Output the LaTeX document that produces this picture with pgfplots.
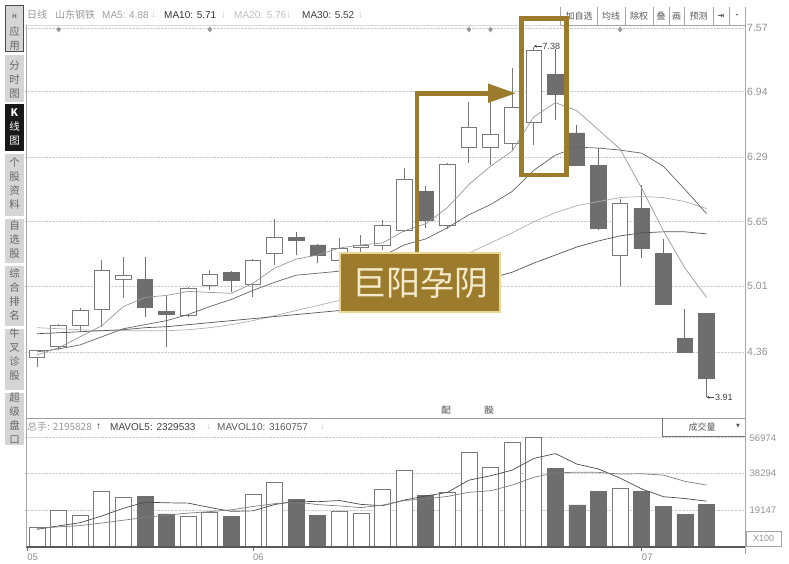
\documentclass[border=0pt]{standalone}
\usepackage{pgfplots}
\pgfplotsset{compat=1.18}
\usepackage{pgfplotstable}
\usepackage{fontspec}
\setmainfont{Liberation Sans}
\newfontfamily\cjk{Noto Sans CJK SC}
\newfontfamily\dejavu{DejaVu Sans}
\usetikzlibrary{arrows.meta}

\definecolor{edge}{HTML}{7A7A7A}
\definecolor{dark}{HTML}{6E6E6E}
\definecolor{txtgray}{HTML}{666666}
\definecolor{ma5c}{HTML}{999999}
\definecolor{ma10c}{HTML}{666666}
\definecolor{ma20c}{HTML}{B0B0B0}
\definecolor{ma30c}{HTML}{555555}
\definecolor{gold}{HTML}{9C7C2C}
\definecolor{goldlt}{HTML}{F4EACB}
\definecolor{goldbd}{HTML}{E9D793}
\definecolor{btn}{HTML}{D5D5D5}

% up (hollow) candles: index, open, high, low, close
\pgfplotstableread{
i o h l c
0 4.31 4.38 4.21 4.37
1 4.41 4.64 4.38 4.62
2 4.62 4.80 4.56 4.77
3 4.78 5.27 4.61 5.17
4 5.08 5.30 4.89 5.12
7 4.72 5.00 4.71 4.99
8 5.02 5.17 4.97 5.13
10 5.03 5.28 4.90 5.27
11 5.34 5.68 5.22 5.49
14 5.27 5.49 5.22 5.39
15 5.40 5.52 5.33 5.42
16 5.42 5.67 5.37 5.61
17 5.56 6.18 5.55 6.07
19 5.61 6.23 5.58 6.22
20 6.39 6.84 6.23 6.58
21 6.39 6.84 6.21 6.52
22 6.43 7.17 6.36 6.78
23 6.63 7.38 6.41 7.35
27 5.32 5.88 5.01 5.83
}\upc

% down (filled) candles
\pgfplotstableread{
i o h l c
5 5.08 5.30 4.71 4.80
6 4.76 4.91 4.41 4.73
9 5.15 5.16 4.95 5.07
12 5.49 5.55 5.32 5.46
13 5.42 5.43 5.24 5.32
18 5.95 6.00 5.59 5.66
24 7.11 7.36 6.66 6.91
25 6.53 6.61 6.21 6.21
26 6.21 6.38 5.57 5.58
28 5.78 6.01 5.29 5.39
29 5.34 5.48 4.83 4.83
30 4.49 4.79 4.35 4.35
31 4.74 4.74 3.91 4.10
}\dnc

% moving averages of price
\pgfplotstableread{
i ma5 ma10 ma20 ma30
0 4.33 4.36 4.60 4.54
1 4.40 4.39 4.59 4.55
2 4.51 4.43 4.58 4.56
3 4.62 4.51 4.57 4.57
4 4.81 4.59 4.57 4.58
5 4.90 4.63 4.57 4.60
6 4.92 4.67 4.57 4.61
7 4.96 4.73 4.58 4.63
8 4.95 4.81 4.60 4.65
9 4.94 4.88 4.63 4.67
10 5.04 4.97 4.67 4.69
11 5.19 5.05 4.72 4.71
12 5.28 5.12 4.77 4.73
13 5.32 5.14 4.82 4.75
14 5.39 5.16 4.87 4.77
15 5.42 5.23 4.93 4.79
16 5.44 5.31 4.99 4.81
17 5.56 5.42 5.07 4.85
18 5.63 5.48 5.14 4.90
19 5.79 5.59 5.23 4.96
20 6.02 5.72 5.34 5.03
21 6.20 5.82 5.44 5.09
22 6.35 5.95 5.54 5.15
23 6.69 6.16 5.65 5.24
24 6.83 6.31 5.74 5.32
25 6.75 6.39 5.81 5.40
26 6.56 6.38 5.85 5.46
27 6.37 6.36 5.89 5.51
28 5.98 6.33 5.90 5.54
29 5.56 6.20 5.89 5.55
30 5.19 5.97 5.85 5.55
31 4.90 5.73 5.78 5.53
}\ma

% volume (x100): up days, down days, MAVOL5, MAVOL10
\pgfplotstableread{
i up dn mv5 mv10
0 10070 nan 9000 9500
1 18780 nan 10800 10300
2 16520 nan 12500 11000
3 29120 nan 16000 12300
4 25800 nan 20058 13800
5 nan 26130 23270 15200
6 nan 17050 22924 16500
7 15630 nan 22746 17500
8 17730 nan 20468 18300
9 nan 15630 18434 19246
10 27540 nan 18716 20993
11 33470 nan 22000 22462
12 nan 24760 23826 23286
13 nan 16160 23512 21990
14 18620 nan 24110 21272
15 17420 nan 22086 20401
16 30000 nan 21392 21696
17 39700 nan 24380 24103
18 nan 26650 26478 24995
19 28220 nan 28398 26254
20 49410 nan 34796 28441
21 41540 nan 37104 29248
22 54450 nan 40054 32217
23 57280 nan 46180 36329
24 nan 41020 48740 38569
25 nan 21770 43212 39004
26 nan 28750 40654 38879
27 30530 nan 35870 37962
28 nan 28750 30164 38172
29 nan 20880 26136 37438
30 nan 16890 25160 34186
31 nan 21958 23802 32228
}\vol

\pgfplotsset{
  pgeom/.style={anchor=south west, at={(25pt,146pt)}, width=720pt, height=393pt,
    scale only axis, xmin=-0.556, xmax=32.78, ymin=3.705, ymax=7.60},
  vgeom/.style={anchor=south west, at={(25pt,17.5pt)}, width=720pt, height=128.5pt,
    scale only axis, xmin=-0.556, xmax=32.78, ymin=0, ymax=67411},
}

\begin{document}
\begin{tikzpicture}[x=1pt,y=1pt]
\path[use as bounding box] (0,0) rectangle (789,564);
\fill[white] (0,0) rectangle (789,564);

% ---------- price panel: grid, labels, wicks, markers
\begin{axis}[pgeom, axis line style={draw=none}, xtick=\empty,
  ytick={4.36,5.01,5.65,6.29,6.94,7.57},
  yticklabels={4.36,5.01,5.65,6.29,6.94,7.57},
  yticklabel pos=right, ytick style={draw=none},
  ymajorgrids, grid style={gray!40, densely dotted, line width=0.8pt},
  yticklabel style={font=\fontsize{10.5}{10.5}\selectfont, text=gray!85, inner sep=2pt},
  /pgf/number format/assume math mode=true]
\addplot[draw=none, mark=none, error bars/.cd, y dir=plus, y explicit, error mark=none,
  error bar style={draw=edge, line width=1pt}]
  table[x=i, y=l, y error expr=\thisrow{h}-\thisrow{l}] \upc;
\addplot[draw=none, mark=none, error bars/.cd, y dir=plus, y explicit, error mark=none,
  error bar style={draw=dark, line width=1pt}]
  table[x=i, y=l, y error expr=\thisrow{h}-\thisrow{l}] \dnc;
\addplot[only marks, mark=diamond*, mark size=2.6pt, color=gray!80]
  coordinates {(1,7.555) (8,7.555) (20,7.555) (21,7.555) (27,7.555)};
\end{axis}

% ---------- up candle bodies (hollow)
\begin{axis}[pgeom, hide axis, ybar stacked, bar width=0.72]
\addplot[draw=none, fill=none] table[x=i, y=o] \upc;
\addplot[fill=white, draw=edge, line width=0.9pt] table[x=i, y expr=\thisrow{c}-\thisrow{o}] \upc;
\end{axis}

% ---------- down candle bodies (filled)
\begin{axis}[pgeom, hide axis, ybar stacked, bar width=0.72]
\addplot[draw=none, fill=none] table[x=i, y=c] \dnc;
\addplot[fill=dark, draw=dark, line width=0.9pt] table[x=i, y expr=\thisrow{o}-\thisrow{c}] \dnc;
\end{axis}

% ---------- moving averages and extreme labels
\begin{axis}[pgeom, hide axis]
\addplot[ma20c, line width=0.7pt] table[x=i, y=ma20] \ma;
\addplot[ma30c, line width=0.7pt] table[x=i, y=ma30] \ma;
\addplot[ma10c, line width=0.7pt] table[x=i, y=ma10] \ma;
\addplot[ma5c, line width=0.7pt] table[x=i, y=ma5] \ma;
\draw[black!70, line width=0.6pt, -{Stealth[length=3pt,width=3pt]}] (axis cs:23.38,7.39) -- (axis cs:23.0,7.39);
\node[anchor=west, inner sep=0.5pt, font=\fontsize{9}{9}\selectfont, text=black!75] at (axis cs:23.38,7.39) {7.38};
\draw[black!70, line width=0.6pt, -{Stealth[length=3pt,width=3pt]}] (axis cs:31.36,3.91) -- (axis cs:31.0,3.91);
\node[anchor=west, inner sep=0.5pt, font=\fontsize{9}{9}\selectfont, text=black!75] at (axis cs:31.36,3.91) {3.91};
\end{axis}

% ---------- volume panel
\begin{axis}[vgeom, axis line style={draw=none},
  ytick={19147,38294,56974}, yticklabels={19147,38294,56974},
  yticklabel pos=right, ytick style={draw=none}, scaled y ticks=false,
  ymajorgrids, grid style={gray!40, densely dotted, line width=0.8pt},
  yticklabel style={font=\fontsize{9.5}{9.5}\selectfont, text=gray!85, inner sep=2pt},
  xtick={-0.46,10,28}, xticklabels={05,06,07}, xtick pos=left,
  xtick style={draw=black!60, line width=0.8pt}, major tick length=5pt, tick align=center,
  xticklabel style={anchor=north west, inner sep=1pt, xshift=-1pt, yshift=-1pt,
    font=\fontsize{9.5}{9.5}\selectfont, text=gray!90},
  ybar, bar width=0.74]
\addplot[bar shift=0pt, fill=white, draw=edge, line width=0.9pt] table[x=i, y=up] \vol;
\addplot[bar shift=0pt, fill=dark, draw=dark, line width=0.9pt] table[x=i, y=dn] \vol;
\end{axis}
\begin{axis}[vgeom, hide axis]
\addplot[black!70, line width=0.7pt] table[x=i, y=mv5] \vol;
\addplot[black!50, line width=0.7pt] table[x=i, y=mv10] \vol;
\end{axis}

% ---------- frame lines
\draw[gray!30, line width=0.6pt] (26,539) -- (745,539);
\draw[gray!75, line width=0.8pt] (26,146) -- (745,146);
\draw[black!65, line width=1.1pt] (26,17) -- (745,17);
\draw[gray!70, line width=0.9pt] (26,17) -- (26,539);
\draw[gray!70, line width=1.1pt] (745.5,10) -- (745.5,557);

% ---------- header texts
\begin{scope}[every node/.style={anchor=west, inner sep=0pt, font=\fontsize{10}{10}\selectfont}]
\node[text=gray!80] at (27,549) {\cjk 日线};
\node[text=gray!80] at (55,549) {\cjk 山东钢铁};
\node[text=gray!75] at (102,549) {MA5: 4.88};
\node[text=gray!45] at (151,549) {↓};
\node[text=black!80] at (164,549) {MA10: 5.71};
\node[text=gray!45] at (221,549) {↓};
\node[text=gray!50] at (234,549) {MA20: 5.76};
\node[text=gray!45] at (286,549) {↓};
\node[text=black!75] at (302,549) {MA30: 5.52};
\node[text=gray!45] at (358,549) {↓};
\node[text=gray!80] at (27,137) {\cjk 总手: 2195828};
\node[text=black!80] at (96,137) {↑};
\node[text=black!75] at (110,137) {MAVOL5: 2329533};
\node[text=gray!45] at (206,137) {↓};
\node[text=black!65] at (217,137) {MAVOL10: 3160757};
\node[text=gray!45] at (320,137) {↓};
\end{scope}

% ---------- top right toolbar
\draw[gray!70, line width=0.6pt] (560,539) -- (745,539);
\foreach \xx in {560,597,625,653,669,684,713,729}
  \draw[gray!70, line width=0.6pt] (\xx,539) -- (\xx,557);
\begin{scope}[every node/.style={inner sep=0pt, font=\cjk\fontsize{9}{9}\selectfont, text=black!65}]
\node at (579,548) {加自选};
\node at (611,548) {均线};
\node at (639,548) {除权};
\node at (661,548) {叠};
\node at (676.5,548) {画};
\node at (698.5,548) {预测};
\node[font=\dejavu\bfseries\fontsize{8}{8}\selectfont] at (721,548) {⇥};
\node[font=\bfseries\fontsize{9}{9}\selectfont] at (737,548) {-};
\end{scope}

% ---------- volume selector and unit box
\draw[black!55, line width=0.7pt] (662,146) -- (662,128) -- (745,128);
\node[inner sep=0pt, font=\cjk\fontsize{9}{9}\selectfont, text=black!65] at (702,137) {成交量};
\node[inner sep=0pt, font=\dejavu\fontsize{5}{5}\selectfont, text=black!65] at (738,138) {▼};
\draw[gray!70, line width=0.6pt] (746,18) rectangle (781,33);
\node[inner sep=0pt, font=\fontsize{9}{9}\selectfont, text=gray!85] at (763.5,25.5) {X100};

% ---------- event marks under the price panel
\node[inner sep=0.5pt, fill=gray!25, font=\cjk\fontsize{9}{9}\selectfont, text=black!60] at (446,154) {配};
\node[inner sep=0.5pt, fill=gray!25, font=\cjk\fontsize{9}{9}\selectfont, text=black!60] at (489,154) {股};

% ---------- left toolbar
\foreach \ya/\yb in {5/52, 55/102, 154/216, 219/263, 266/326, 329/390, 393/445}
  \fill[btn] (5,{564-\yb}) rectangle (24,{564-\ya});
\fill[black!90] (5,{564-151}) rectangle (24,{564-104});
\draw[black!70, line width=1pt] (5.5,{564-52}) rectangle (23.5,{564-6});
\begin{scope}[every node/.style={inner sep=0pt, align=center, font=\cjk\fontsize{10.5}{14}\selectfont, text=black!60}]
\node[font=\bfseries\fontsize{6}{6}\selectfont] at (14.5,548) {H};
\node at (14.5,{564-39}) {应\\用};
\node at (14.5,{564-80}) {分\\时\\图};
\node[text=white] at (14.5,{564-127}) {\textbf{K}\\线\\图};
\node at (14.5,{564-184}) {个\\股\\资\\料};
\node at (14.5,{564-240}) {自\\选\\股};
\node at (14.5,{564-294}) {综\\合\\排\\名};
\node at (14.5,{564-355}) {牛\\叉\\诊\\股};
\node at (14.5,{564-418}) {超\\级\\盘\\口};
\end{scope}

% ---------- gold annotation
\draw[gold, line width=4.5pt] (521.7,389) rectangle (566.3,545.3);
\draw[gold, line width=4.5pt] (417,311) -- (417,470.7) -- (492,470.7);
\fill[gold] (488,480.5) -- (515.5,470.7) -- (488,461) -- cycle;
\fill[gold] (340,252) rectangle (500,311);
\draw[goldbd, line width=1.2pt] (340,252) rectangle (500,311);
\node[inner sep=0pt, font=\cjk\fontsize{34}{34}\selectfont, text=goldlt] at (420,281) {巨阳孕阴};
\end{tikzpicture}
\end{document}
